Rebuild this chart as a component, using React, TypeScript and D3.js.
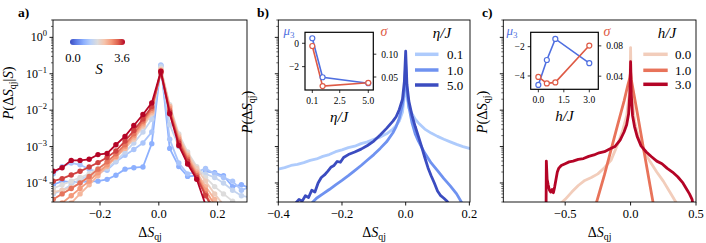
import React from 'react';
import * as d3 from 'd3';

const FONT = '"Liberation Serif", "DejaVu Serif", serif';

// ---------- Panel a: P(ΔS_qj | S), log10 values at bin centres ----------
const aBinCenters = [-0.359, -0.329, -0.298, -0.268, -0.237, -0.207, -0.176, -0.146, -0.115, -0.085, -0.054, -0.024, 0.007, 0.037, 0.068, 0.098, 0.129, 0.159, 0.19, 0.22, 0.251, 0.281, 0.312];
const aSValues = [0.9, 1.2, 1.5, 1.8, 2.1, 2.4, 2.7, 3.0, 3.3, 3.6];
const aLogP09 = [-4.05, -3.95, -3.98, -3.97, -3.96, -3.95, -3.9, -3.79, -3.62, -3.58, -3.56, -2.92, -0.78, -3.05, -3.55, -3.82, -3.8, -3.68, -3.72, -3.8, -4.1, -4.05, -4.15];
const aLogP12 = [-3.75, -3.55, -3.45, -3.5, -3.62, -3.7, -3.65, -3.42, -3.24, -3.08, -2.9, -2.6, -0.76, -2.8, -3.45, -3.75, -3.7, -3.6, -3.75, -3.85, -3.95, -4.2, -4.1];
const aLogP15 = [-4.3, -4.2, -4.05, -3.9, -3.8, -3.75, -3.6, -3.4, -3.15, -2.9, -2.6, -2.25, -0.8, -2.4, -3.0, -3.4, -3.65, -3.75, -3.85, -4.0, -4.2, -4.35, -4.4];
const aLogP18 = [-4.15, -4.05, -3.95, -3.85, -3.75, -3.6, -3.45, -3.25, -3.0, -2.75, -2.45, -2.05, -0.85, -1.85, -2.65, -3.15, -3.55, -3.85, -4.1, -4.3, -4.5, null, null];
const aLogP21 = [-4.25, -4.2, -4.12, -4.0, -3.85, -3.7, -3.52, -3.28, -3.05, -2.8, -2.45, -2.1, -0.88, -1.9, -2.7, -3.2, -3.6, -3.95, -4.3, -4.6, null, null, null];
const aLogP24 = [null, -4.7, -4.55, -4.3, -4.05, -3.8, -3.55, -3.3, -3.05, -2.75, -2.4, -2.05, -0.9, -1.9, -2.75, -3.25, -3.7, -4.1, -4.45, -4.7, null, null, null];
const aLogP27 = [-4.75, -4.55, -4.35, -4.15, -3.95, -3.72, -3.5, -3.27, -3.0, -2.7, -2.35, -2.0, -0.92, -1.95, -2.8, -3.3, -3.75, -4.2, -4.6, null, null, null, null];
const aLogP30 = [-4.45, -4.3, -4.15, -4.0, -3.82, -3.62, -3.42, -3.2, -2.95, -2.65, -2.3, -1.95, -0.95, -2.0, -2.85, -3.35, -3.8, -4.3, -4.75, null, null, null, null];
const aLogP33 = [-3.95, -3.88, -3.78, -3.68, -3.56, -3.44, -3.3, -3.12, -2.85, -2.56, -2.24, -1.9, -0.98, -2.05, -2.9, -3.4, -3.85, -4.35, -4.8, null, null, null, null];
const aLogP36 = [-3.68, -3.58, -3.38, -3.38, -3.35, -3.22, -3.19, -2.95, -2.72, -2.42, -2.12, -1.8, -0.93, -2.1, -2.97, -3.48, -3.9, -4.6, null, null, null, null, null];
const aSeries = [aLogP09, aLogP12, aLogP15, aLogP18, aLogP21, aLogP24, aLogP27, aLogP30, aLogP33, aLogP36];
const aXTicks = [-0.2, 0, 0.2];
const aXTickLabels = ['\u22120.2', '0.0', '0.2'];
const aYDecades = [0, -1, -2, -3, -4];

// ---------- Panel b: eta/J ----------
const bEtaLabels = ['0.1', '1.0', '5.0'];
const bEta01X = [-0.40, -0.38, -0.36, -0.34, -0.32, -0.30, -0.28, -0.26, -0.24, -0.22, -0.20, -0.18, -0.16, -0.14, -0.12, -0.10, -0.08, -0.06, -0.04, -0.03, -0.02, -0.01, -0.004, 0, 0.004, 0.01, 0.02, 0.03, 0.04, 0.06, 0.08, 0.10, 0.12, 0.14, 0.16, 0.18, 0.20, 0.21];
const bEta01LogP = [-3.62, -3.58, -3.52, -3.49, -3.44, -3.38, -3.34, -3.27, -3.22, -3.14, -3.09, -3.03, -2.99, -2.92, -2.87, -2.80, -2.74, -2.65, -2.52, -2.43, -2.30, -2.05, -1.60, -1.0, -1.6, -1.95, -2.1, -2.25, -2.35, -2.52, -2.63, -2.72, -2.80, -2.87, -2.94, -3.0, -3.05, -3.08];
const bEta1X = [-0.30, -0.28, -0.26, -0.24, -0.22, -0.20, -0.18, -0.16, -0.14, -0.12, -0.10, -0.08, -0.06, -0.04, -0.03, -0.02, -0.01, -0.004, 0, 0.004, 0.01, 0.02, 0.03, 0.04, 0.06, 0.08, 0.10, 0.12, 0.14, 0.16, 0.18];
const bEta1LogP = [-4.6, -4.42, -4.3, -4.18, -4.05, -3.93, -3.8, -3.66, -3.52, -3.37, -3.22, -3.05, -2.87, -2.62, -2.45, -2.22, -1.85, -1.4, -0.75, -1.45, -1.9, -2.35, -2.65, -2.85, -3.18, -3.45, -3.66, -3.88, -4.08, -4.3, -4.6];
const bEta5X = [-0.35, -0.345, -0.335, -0.325, -0.315, -0.305, -0.295, -0.285, -0.275, -0.265, -0.255, -0.245, -0.235, -0.225, -0.215, -0.205, -0.195, -0.18, -0.16, -0.14, -0.12, -0.10, -0.08, -0.06, -0.04, -0.03, -0.02, -0.01, -0.004, 0, 0.004, 0.01, 0.02, 0.03, 0.04, 0.05, 0.06, 0.07, 0.08, 0.09, 0.10, 0.11, 0.12, 0.13, 0.14];
const bEta5LogP = [-4.7, -4.55, -4.45, -4.5, -4.35, -4.4, -4.2, -4.25, -4.0, -3.85, -3.78, -3.68, -3.57, -3.52, -3.41, -3.43, -3.3, -3.22, -3.15, -3.07, -2.97, -2.85, -2.68, -2.5, -2.3, -2.18, -1.98, -1.7, -1.2, -0.38, -1.3, -1.75, -2.15, -2.45, -2.72, -3.0, -3.3, -3.58, -3.8, -4.0, -4.22, -4.35, -4.42, -4.5, -4.65];
const bXTicks = [-0.4, -0.2, 0, 0.2];
const bXTickLabels = ['\u22120.4', '\u22120.2', '0.0', '0.2'];
const bInsetEta = [0.1, 1.0, 5.0];
const bInsetMu3 = [0.43, -2.91, -3.42];
const bInsetSigma = [0.118, 0.030, 0.0373];

// ---------- Panel c: h/J ----------
const cHLabels = ['0.0', '1.0', '3.0'];
const cH0X = [-0.56, -0.5, -0.45, -0.40, -0.35, -0.30, -0.25, -0.20, -0.15, -0.10, -0.06, -0.03, -0.01, -0.003, 0, 0.003, 0.01, 0.03, 0.06, 0.10, 0.15, 0.20, 0.25, 0.30, 0.35];
const cH0LogP = [-4.65, -4.45, -4.25, -4.07, -3.93, -3.85, -3.75, -3.58, -3.38, -2.95, -2.55, -2.15, -1.55, -1.0, -0.28, -1.0, -1.6, -2.3, -2.75, -3.1, -3.42, -3.7, -3.95, -4.25, -4.55];
const cH1X = [-0.27, -0.25, -0.20, -0.15, -0.10, -0.05, -0.02, -0.005, 0, 0.005, 0.02, 0.05, 0.10, 0.15, 0.18];
const cH1LogP = [-4.65, -4.4, -3.78, -3.1, -2.42, -1.75, -1.3, -1.1, -0.95, -1.15, -1.45, -2.05, -3.08, -4.1, -4.7];
const cH3X = [-0.646, -0.644, -0.638, -0.63, -0.62, -0.61, -0.60, -0.59, -0.58, -0.57, -0.56, -0.55, -0.53, -0.50, -0.47, -0.44, -0.40, -0.36, -0.32, -0.28, -0.24, -0.20, -0.16, -0.12, -0.08, -0.05, -0.03, -0.015, -0.005, 0, 0.005, 0.015, 0.03, 0.05, 0.08, 0.12, 0.16, 0.20, 0.24, 0.28, 0.32, 0.36, 0.40, 0.43, 0.45, 0.47, 0.48];
const cH3LogP = [-4.7, -3.4, -3.9, -4.05, -4.2, -4.25, -4.18, -4.27, -4.1, -3.9, -3.7, -3.6, -3.52, -3.47, -3.42, -3.4, -3.35, -3.33, -3.27, -3.23, -3.17, -3.14, -3.07, -3.0, -2.82, -2.6, -2.4, -2.1, -1.5, -0.67, -1.55, -2.15, -2.45, -2.72, -2.98, -3.15, -3.28, -3.4, -3.47, -3.6, -3.7, -3.83, -4.0, -4.18, -4.3, -4.45, -4.65];
const cXTicks = [-0.5, 0, 0.5];
const cXTickLabels = ['\u22120.5', '0.0', '0.5'];
const cInsetH = [0, 0.5, 1.0, 3.0];
const cInsetMu3 = [-4.61, -2.91, -1.47, -3.13];
const cInsetSigma = [0.039, 0.0305, 0.0318, 0.0804];

// ---------- styling ----------
const coolwarmStops = ['#3b4cc0', '#6282ea', '#8db0fe', '#b8d0f9', '#dddcdc', '#f5c4ac', '#f49a7b', '#de604d', '#b40426'];
const coolwarm = d3.scaleLinear<string>().domain(coolwarmStops.map((_, i) => i / (coolwarmStops.length - 1))).range(coolwarmStops).interpolate(d3.interpolateRgb);
const bColors = ['#aecbfc', '#6f92f0', '#3b4cc0'];
const cColors = ['#f2cdbb', '#e8735a', '#b40426'];
const MU_BLUE = '#4f6fe0';
const SIG_RED = '#de5a45';

const TOP = 20, BOTTOM = 202;
const yScale = d3.scaleLog().domain([3e-5, 3]).range([BOTTOM, TOP]);

const minorTicks: number[] = [];
for (let e = -5; e <= 0; e++) for (let m = 2; m <= 9; m++) {
  const v = m * Math.pow(10, e);
  if (v >= 3e-5 && v <= 3) minorTicks.push(v);
}

const ff = { fontFamily: FONT };

function DS({ x, y, size = 14 }: { x: number; y: number; size?: number }) {
  return (
    <text x={x} y={y} fontSize={size} textAnchor="middle" style={ff}>
      <tspan>Δ</tspan><tspan fontStyle="italic">S</tspan><tspan fontSize={size * 0.7} dy={3}>qj</tspan>
    </text>
  );
}

function Axes({ left, right, xDomain, xTicks, xLabels, clipId, yLabels, children }: any) {
  const x = d3.scaleLinear().domain(xDomain).range([left, right]);
  return (
    <g>
      <defs>
        <clipPath id={clipId}><rect x={left} y={TOP} width={right - left} height={BOTTOM - TOP} /></clipPath>
      </defs>
      <g clipPath={`url(#${clipId})`}>{children(x)}</g>
      <rect x={left} y={TOP} width={right - left} height={BOTTOM - TOP} fill="none" stroke="#000" strokeWidth={0.9} />
      {xTicks.map((t: number, i: number) => (
        <g key={i}>
          <line x1={x(t)} x2={x(t)} y1={BOTTOM} y2={BOTTOM + 3.5} stroke="#000" strokeWidth={0.9} />
          <text x={x(t)} y={BOTTOM + 16} fontSize={12.5} textAnchor="middle" style={ff}>{xLabels[i]}</text>
        </g>
      ))}
      {aYDecades.map((d) => (
        <g key={d}>
          <line x1={left - 3.5} x2={left} y1={yScale(Math.pow(10, d))} y2={yScale(Math.pow(10, d))} stroke="#000" strokeWidth={0.9} />
          {yLabels && (
            <text x={left - 6} y={yScale(Math.pow(10, d)) + 4} fontSize={12} textAnchor="end" style={ff}>
              10<tspan fontSize={8.5} dy={-5}>{d === 0 ? '0' : '\u2212' + Math.abs(d)}</tspan>
            </text>
          )}
        </g>
      ))}
      {minorTicks.map((v, i) => (
        <line key={i} x1={left - 2} x2={left} y1={yScale(v)} y2={yScale(v)} stroke="#000" strokeWidth={0.6} />
      ))}
    </g>
  );
}

function Inset({ left, right, top, bottom, xDomain, muDomain, sigDomain, xs, mu, sig, xTicks, xTickLabels, muTicks, muTickLabels, sigTicks, sigTickLabels, xLabelVar, muLabelX, sigLabelX }: any) {
  const x = d3.scaleLinear().domain(xDomain).range([left, right]);
  const ym = d3.scaleLinear().domain(muDomain).range([bottom, top]);
  const ys = d3.scaleLinear().domain(sigDomain).range([bottom, top]);
  const lm = d3.line<number>().x((_, i) => x(xs[i])).y((d) => ym(d));
  const ls = d3.line<number>().x((_, i) => x(xs[i])).y((d) => ys(d));
  return (
    <g style={ff}>
      <rect x={left} y={top} width={right - left} height={bottom - top} fill="#fff" stroke="none" />
      <path d={lm(mu) || ''} fill="none" stroke={MU_BLUE} strokeWidth={1.6} />
      <path d={ls(sig) || ''} fill="none" stroke={SIG_RED} strokeWidth={1.6} />
      {mu.map((d: number, i: number) => <circle key={'m' + i} cx={x(xs[i])} cy={ym(d)} r={2.5} fill="#fff" stroke={MU_BLUE} strokeWidth={1.2} />)}
      {sig.map((d: number, i: number) => <circle key={'s' + i} cx={x(xs[i])} cy={ys(d)} r={2.5} fill="#fff" stroke={SIG_RED} strokeWidth={1.2} />)}
      <rect x={left} y={top} width={right - left} height={bottom - top} fill="none" stroke="#000" strokeWidth={1.2} />
      {xTicks.map((t: number, i: number) => (
        <g key={'x' + i}>
          <line x1={x(t)} x2={x(t)} y1={bottom} y2={bottom + 3} stroke="#000" strokeWidth={0.8} />
          <text x={x(t)} y={bottom + 14} fontSize={9.5} textAnchor="middle" style={ff}>{xTickLabels[i]}</text>
        </g>
      ))}
      {muTicks.map((t: number, i: number) => (
        <g key={'mu' + i}>
          <line x1={left - 3} x2={left} y1={ym(t)} y2={ym(t)} stroke="#000" strokeWidth={0.8} />
          <text x={left - 6} y={ym(t) + 3.5} fontSize={9.5} textAnchor="end" style={ff}>{muTickLabels[i]}</text>
        </g>
      ))}
      {sigTicks.map((t: number, i: number) => (
        <g key={'sg' + i}>
          <line x1={right} x2={right + 3} y1={ys(t)} y2={ys(t)} stroke="#000" strokeWidth={0.8} />
          <text x={right + 8} y={ys(t) + 3.5} fontSize={9.5} textAnchor="start" style={ff}>{sigTickLabels[i]}</text>
        </g>
      ))}
      <text x={(left + right) / 2} y={bottom + 32} fontSize={15} textAnchor="middle" fontStyle="italic" style={ff}>{xLabelVar}/J</text>
      <text x={muLabelX} y={top + 3} fontSize={13} textAnchor="middle" fill={MU_BLUE} fontStyle="italic" style={ff}>μ<tspan fontSize={9} dy={2.5} fontStyle="normal">3</tspan></text>
      <text x={sigLabelX} y={top + 4} fontSize={14} textAnchor="middle" fill={SIG_RED} fontStyle="italic" style={ff}>σ</text>
    </g>
  );
}

function Legend({ titleVar, titleX, lineX1, lineX2, textX, ys, labels, colors }: any) {
  return (
    <g style={ff}>
      <text x={titleX} y={38} fontSize={15} textAnchor="middle" fontStyle="italic" style={ff}>{titleVar}/J</text>
      {labels.map((l: string, i: number) => (
        <g key={i}>
          <line x1={lineX1} x2={lineX2} y1={ys[i]} y2={ys[i]} stroke={colors[i]} strokeWidth={3.5} />
          <text x={textX} y={ys[i] + 4.5} fontSize={13} style={ff}>{l}</text>
        </g>
      ))}
    </g>
  );
}

function curve(x: any, xs: number[], logp: (number | null)[]) {
  const pts = xs.map((v, i) => [v, logp[i]] as [number, number | null]);
  return d3.line<[number, number | null]>()
    .defined((d) => d[1] != null)
    .x((d) => x(d[0]))
    .y((d) => yScale(Math.pow(10, d[1] as number)))(pts) || '';
}

function YLabel({ x, y, cond }: { x: number; y: number; cond?: boolean }) {
  return (
    <text transform={`translate(${x},${y}) rotate(-90)`} fontSize={14.5} textAnchor="middle" style={ff}>
      <tspan fontStyle="italic">P</tspan>(Δ<tspan fontStyle="italic">S</tspan><tspan fontSize={10} dy={3}>qj</tspan>
      {cond ? <><tspan dy={-3}>|</tspan><tspan fontStyle="italic">S</tspan>)</> : <tspan dy={-3}>)</tspan>}
    </text>
  );
}

export default function App() {
  const aLeft = 53, aRight = 247;
  const bLeft = 278.3, bRight = 470;
  const cLeft = 503.3, cRight = 696;
  return (
    <svg width={706} height={243} style={{ position: 'absolute', left: 0, top: 0, background: '#fff', fontFamily: FONT }}>
      <defs>
        <linearGradient id="cwgrad" x1="0" x2="1" y1="0" y2="0">
          {coolwarmStops.map((c, i) => <stop key={i} offset={i / (coolwarmStops.length - 1)} stopColor={c} />)}
        </linearGradient>
      </defs>

      {/* Panel a */}
      <Axes left={aLeft} right={aRight} xDomain={[-0.36, 0.30]} xTicks={aXTicks} xLabels={aXTickLabels} clipId="clipA" yLabels>
        {(x: any) => aSeries.map((s, si) => {
          const col = coolwarm(aSValues[si] / 3.6);
          return (
            <g key={si}>
              <path d={curve(x, aBinCenters, s)} fill="none" stroke={col} strokeWidth={1.8} />
              {s.map((v, i) => v == null ? null : (
                <circle key={i} cx={x(aBinCenters[i])} cy={yScale(Math.pow(10, v))} r={2.7} fill={col} />
              ))}
            </g>
          );
        })}
      </Axes>
      <rect x={70} y={39} width={55} height={6} rx={3} fill="url(#cwgrad)" />
      <text x={73} y={62} fontSize={12.5} textAnchor="middle" style={ff}>0.0</text>
      <text x={122} y={62} fontSize={12.5} textAnchor="middle" style={ff}>3.6</text>
      <text x={99} y={74} fontSize={15} textAnchor="middle" fontStyle="italic" style={ff}>S</text>
      <text x={18} y={17} fontSize={13.5} fontWeight="bold" style={ff}>a)</text>
      <YLabel x={13} y={93} cond />
      <DS x={(aLeft + aRight) / 2} y={237} />

      {/* Panel b */}
      <Axes left={bLeft} right={bRight} xDomain={[-0.4, 0.202]} xTicks={bXTicks} xLabels={bXTickLabels} clipId="clipB">
        {(x: any) => (
          <g fill="none" strokeWidth={2.8} strokeLinejoin="round">
            <path d={curve(x, bEta01X, bEta01LogP)} stroke={bColors[0]} />
            <path d={curve(x, bEta1X, bEta1LogP)} stroke={bColors[1]} />
            <path d={curve(x, bEta5X, bEta5LogP)} stroke={bColors[2]} />
          </g>
        )}
      </Axes>
      <Inset left={305} right={373.3} top={32.3} bottom={90} xDomain={[-0.54, 5.44]} muDomain={[-4.0, 0.94]} sigDomain={[0.0215, 0.148]}
        xs={bInsetEta} mu={bInsetMu3} sig={bInsetSigma}
        xTicks={[0.1, 2.5, 5.0]} xTickLabels={['0.1', '2.5', '5.0']}
        muTicks={[0, -2]} muTickLabels={['0', '\u22122']}
        sigTicks={[0.05, 0.10]} sigTickLabels={['0.05', '0.10']}
        xLabelVar="η" muLabelX={289} sigLabelX={384} />
      <Legend titleVar="η" titleX={442} lineX1={415} lineX2={438.5} textX={447} ys={[54.3, 70, 85]} labels={bEtaLabels} colors={bColors} />
      <text x={257} y={17} fontSize={13.5} fontWeight="bold" style={ff}>b)</text>
      <YLabel x={252} y={112} />
      <DS x={(bLeft + bRight) / 2} y={237} />

      {/* Panel c */}
      <Axes left={cLeft} right={cRight} xDomain={[-0.973, 0.5]} xTicks={cXTicks} xLabels={cXTickLabels} clipId="clipC">
        {(x: any) => (
          <g fill="none" strokeWidth={2.8} strokeLinejoin="round">
            <path d={curve(x, cH0X, cH0LogP)} stroke={cColors[0]} />
            <path d={curve(x, cH1X, cH1LogP)} stroke={cColors[1]} />
            <path d={curve(x, cH3X, cH3LogP)} stroke={cColors[2]} />
          </g>
        )}
      </Axes>
      <Inset left={530.7} right={598.3} top={32.3} bottom={89.3} xDomain={[-0.45, 3.53]} muDomain={[-4.91, -1.02]} sigDomain={[0.0227, 0.0979]}
        xs={cInsetH} mu={cInsetMu3} sig={cInsetSigma}
        xTicks={[0, 1.5, 3.0]} xTickLabels={['0.0', '1.5', '3.0']}
        muTicks={[-2, -4]} muTickLabels={['\u22122', '\u22124']}
        sigTicks={[0.04, 0.08]} sigTickLabels={['0.04', '0.08']}
        xLabelVar="h" muLabelX={512} sigLabelX={607} />
      <Legend titleVar="h" titleX={667} lineX1={643.3} lineX2={667.7} textX={675} ys={[54.3, 70.3, 84.3]} labels={cHLabels} colors={cColors} />
      <text x={482} y={17} fontSize={13.5} fontWeight="bold" style={ff}>c)</text>
      <YLabel x={487} y={112} />
      <DS x={(cLeft + cRight) / 2} y={237} />
    </svg>
  );
}
